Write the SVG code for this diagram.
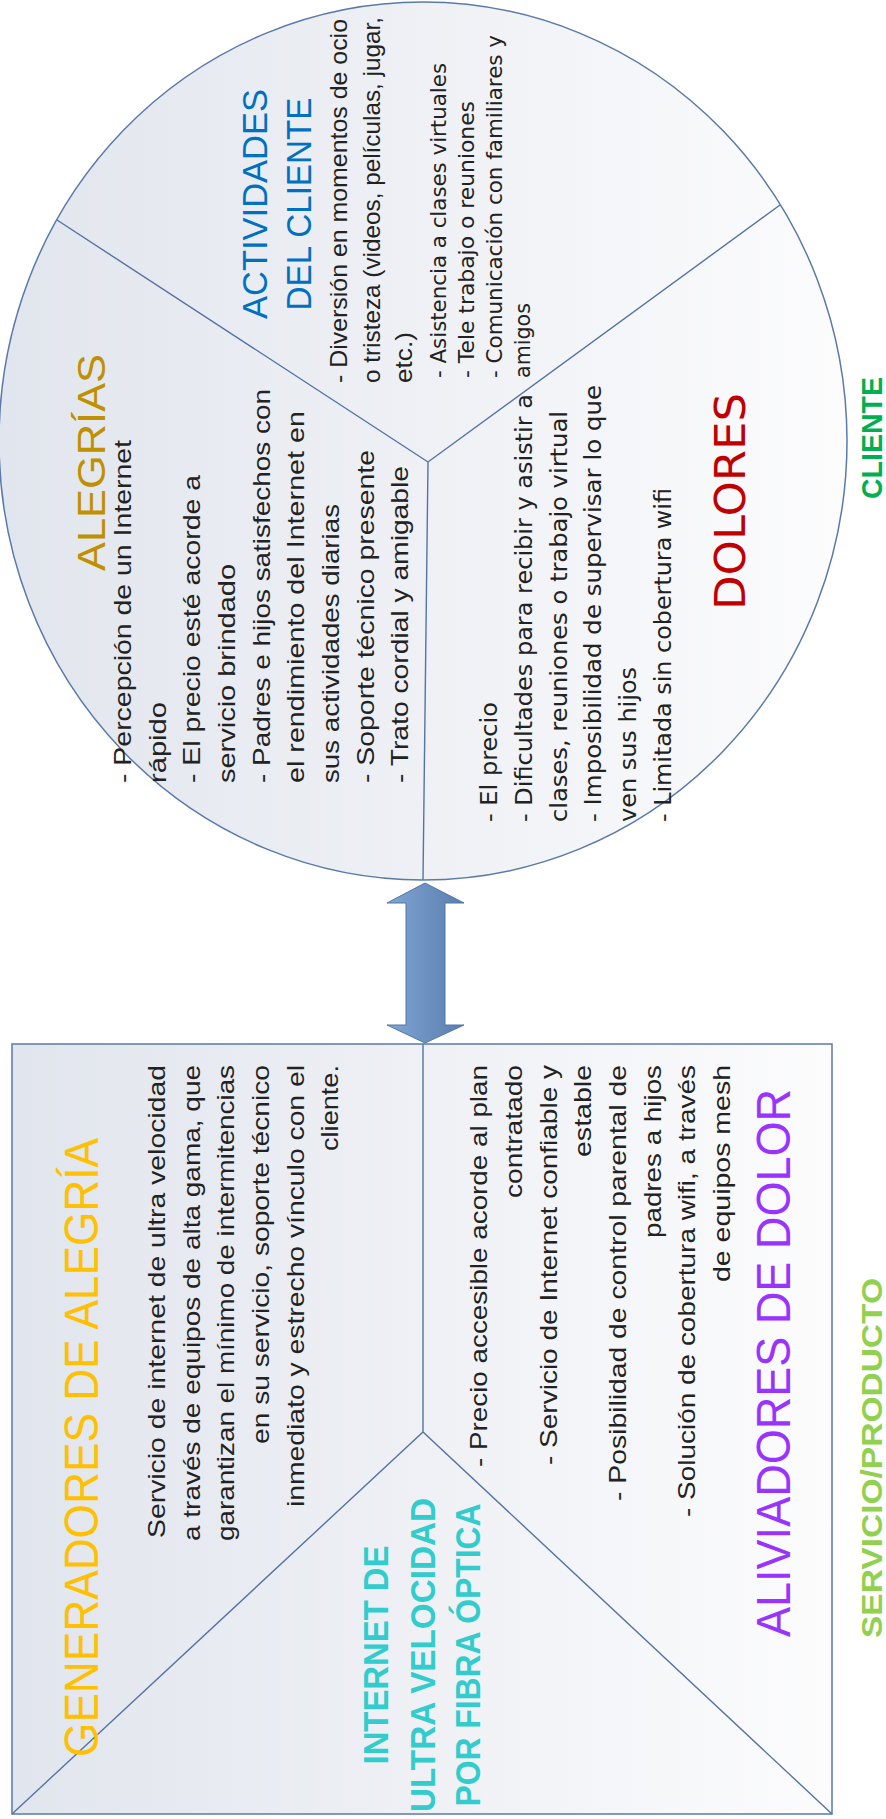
<svg xmlns="http://www.w3.org/2000/svg" width="886" height="1819" viewBox="0 0 886 1819">
  <defs>
    <linearGradient id="paneFill" x1="0" y1="0" x2="1" y2="0">
      <stop offset="0" stop-color="#e1e5ed"/>
      <stop offset="1" stop-color="#fcfcfd"/>
    </linearGradient>
    <linearGradient id="arrowFill" x1="0" y1="0" x2="1" y2="0">
      <stop offset="0" stop-color="#80a6d4"/>
      <stop offset="1" stop-color="#5a7eae"/>
    </linearGradient>
    <style>
      .edge { fill: none; stroke: #5474a3; stroke-width: 1.4; }
      .pane { fill: url(#paneFill); stroke: #5a7aa8; stroke-width: 1.5; }
      .cond { font-family: "Liberation Sans", "DejaVu Sans Condensed", sans-serif; }
      .round { font-family: "DejaVu Sans", "Noto Sans", sans-serif; }
      .body { font-size: 24px; fill: #222222; }
      .small { font-size: 22px; fill: #222222; }
      .mid { font-size: 23px; fill: #222222; }
    </style>
  </defs>

  <rect width="886" height="1819" fill="#ffffff"/>

  <!-- Customer profile: circle split in three sectors -->
  <g id="cliente">
    <ellipse class="pane" cx="423" cy="441" rx="424" ry="439"/>
    <path class="edge" d="M57 220 L428 462 L780 205 M428 462 L423 880"/>
  </g>

  <!-- Value map: square split by a V -->
  <g id="servicio-producto">
    <rect class="pane" x="12" y="1044" width="820" height="770"/>
    <path class="edge" d="M423 1044 L423 1432 M12 1814 L423 1432 L832 1814"/>
  </g>

  <!-- Two-way fit arrow between both halves -->
  <g id="connectors">
    <polygon points="425,883 464,903 445,903 445,1025 464,1025 425,1043 387,1025 406,1025 406,903 387,903"
             fill="url(#arrowFill)" stroke="#5276a6" stroke-width="1"/>
  </g>

  <!-- All labels read bottom to top -->
  <g transform="translate(0 1819) rotate(-90)">
    <g id="generadores">
      <text class="cond" x="62" y="98" font-size="48" fill="#ffc000" textLength="619" lengthAdjust="spacingAndGlyphs">GENERADORES DE ALEGRÍA</text>
      <g class="cond body" text-anchor="end">
        <text x="754" y="165" textLength="473" lengthAdjust="spacingAndGlyphs">Servicio de internet de ultra velocidad</text>
        <text x="754" y="200" textLength="476" lengthAdjust="spacingAndGlyphs">a través de equipos de alta gama, que</text>
        <text x="754" y="234" textLength="476" lengthAdjust="spacingAndGlyphs">garantizan el mínimo de intermitencias</text>
        <text x="754" y="269" textLength="379" lengthAdjust="spacingAndGlyphs">en su servicio, soporte técnico</text>
        <text x="754" y="304" textLength="442" lengthAdjust="spacingAndGlyphs">inmediato y estrecho vínculo con el</text>
        <text x="754" y="338" textLength="86" lengthAdjust="spacingAndGlyphs">cliente.</text>
      </g>
    </g>

    <g id="producto-nombre" class="cond" font-size="35" font-weight="bold" fill="#33cccc" text-anchor="middle">
      <text x="164" y="388" textLength="219" lengthAdjust="spacingAndGlyphs">INTERNET DE</text>
      <text x="164" y="435" textLength="314" lengthAdjust="spacingAndGlyphs">ULTRA VELOCIDAD</text>
      <text x="164" y="480" textLength="303" lengthAdjust="spacingAndGlyphs">POR FIBRA ÓPTICA</text>
    </g>

    <g id="aliviadores">
      <g class="cond body" text-anchor="end">
        <text x="754" y="487" textLength="402" lengthAdjust="spacingAndGlyphs">- Precio accesible acorde al plan</text>
        <text x="754" y="522" textLength="133" lengthAdjust="spacingAndGlyphs">contratado</text>
        <text x="754" y="557" textLength="400" lengthAdjust="spacingAndGlyphs">- Servicio de Internet confiable y</text>
        <text x="754" y="591" textLength="92" lengthAdjust="spacingAndGlyphs">estable</text>
        <text x="754" y="626" textLength="436" lengthAdjust="spacingAndGlyphs">- Posibilidad de control parental de</text>
        <text x="754" y="661" textLength="173" lengthAdjust="spacingAndGlyphs">padres a hijos</text>
        <text x="754" y="695" textLength="452" lengthAdjust="spacingAndGlyphs">- Solución de cobertura wifi, a través</text>
        <text x="754" y="730" textLength="217" lengthAdjust="spacingAndGlyphs">de equipos mesh</text>
      </g>
      <text class="cond" x="182" y="790" font-size="48" fill="#9933ff" textLength="548" lengthAdjust="spacingAndGlyphs">ALIVIADORES DE DOLOR</text>
    </g>

    <text id="etiqueta-producto" class="cond" x="181" y="882" font-size="30" font-weight="bold" fill="#92d050" textLength="360" lengthAdjust="spacingAndGlyphs">SERVICIO/PRODUCTO</text>

    <g id="alegrias">
      <text class="cond" x="1248" y="105" font-size="39" fill="#bf9000" textLength="217" lengthAdjust="spacingAndGlyphs">ALEGRÍAS</text>
      <g class="cond body">
        <text x="1036" y="131" textLength="343" lengthAdjust="spacingAndGlyphs">- Percepción de un Internet</text>
        <text x="1036" y="166" textLength="81" lengthAdjust="spacingAndGlyphs">rápido</text>
        <text x="1036" y="200" textLength="308" lengthAdjust="spacingAndGlyphs">- El precio esté acorde a</text>
        <text x="1036" y="235" textLength="219" lengthAdjust="spacingAndGlyphs">servicio brindado</text>
        <text x="1036" y="270" textLength="394" lengthAdjust="spacingAndGlyphs">- Padres e hijos satisfechos con</text>
        <text x="1036" y="304" textLength="372" lengthAdjust="spacingAndGlyphs">el rendimiento del Internet en</text>
        <text x="1036" y="339" textLength="279" lengthAdjust="spacingAndGlyphs">sus actividades diarias</text>
        <text x="1036" y="374" textLength="333" lengthAdjust="spacingAndGlyphs">- Soporte técnico presente</text>
        <text x="1036" y="408" textLength="317" lengthAdjust="spacingAndGlyphs">- Trato cordial y amigable</text>
      </g>
    </g>

    <g id="actividades">
      <g class="cond" font-size="35" fill="#0070c0" text-anchor="middle">
        <text x="1615" y="267" textLength="230" lengthAdjust="spacingAndGlyphs">ACTIVIDADES</text>
        <text x="1615" y="311" textLength="213" lengthAdjust="spacingAndGlyphs">DEL CLIENTE</text>
      </g>
      <g class="cond body">
        <text x="1436" y="347" textLength="364" lengthAdjust="spacingAndGlyphs">- Diversión en momentos de ocio</text>
        <text x="1436" y="380" textLength="366" lengthAdjust="spacingAndGlyphs">o tristeza (videos, películas, jugar,</text>
        <text x="1436" y="412" textLength="51" lengthAdjust="spacingAndGlyphs">etc.)</text>
      </g>
      <g class="round small">
        <text x="1441" y="446" textLength="315" lengthAdjust="spacingAndGlyphs">- Asistencia a clases virtuales</text>
        <text x="1441" y="474" textLength="277" lengthAdjust="spacingAndGlyphs">- Tele trabajo o reuniones</text>
        <text x="1441" y="502" textLength="343" lengthAdjust="spacingAndGlyphs">- Comunicación con familiares y</text>
        <text x="1441" y="530" textLength="75" lengthAdjust="spacingAndGlyphs">amigos</text>
      </g>
    </g>

    <g id="dolores">
      <g class="round mid">
        <text x="997" y="497" textLength="120" lengthAdjust="spacingAndGlyphs">- El precio</text>
        <text x="997" y="532" textLength="428" lengthAdjust="spacingAndGlyphs">- Dificultades para recibir y asistir a</text>
        <text x="997" y="567" textLength="411" lengthAdjust="spacingAndGlyphs">clases, reuniones o trabajo virtual</text>
        <text x="997" y="601" textLength="437" lengthAdjust="spacingAndGlyphs">- Imposibilidad de supervisar lo que</text>
        <text x="997" y="636" textLength="155" lengthAdjust="spacingAndGlyphs">ven sus hijos</text>
        <text x="997" y="671" textLength="334" lengthAdjust="spacingAndGlyphs">- Limitada sin cobertura wifi</text>
      </g>
      <text class="round" x="1209" y="745" font-size="42" fill="#c00000" textLength="217" lengthAdjust="spacingAndGlyphs">DOLORES</text>
    </g>

    <text id="etiqueta-cliente" class="cond" x="1320" y="882" font-size="30" font-weight="bold" fill="#00b050" textLength="122" lengthAdjust="spacingAndGlyphs">CLIENTE</text>
  </g>
</svg>
